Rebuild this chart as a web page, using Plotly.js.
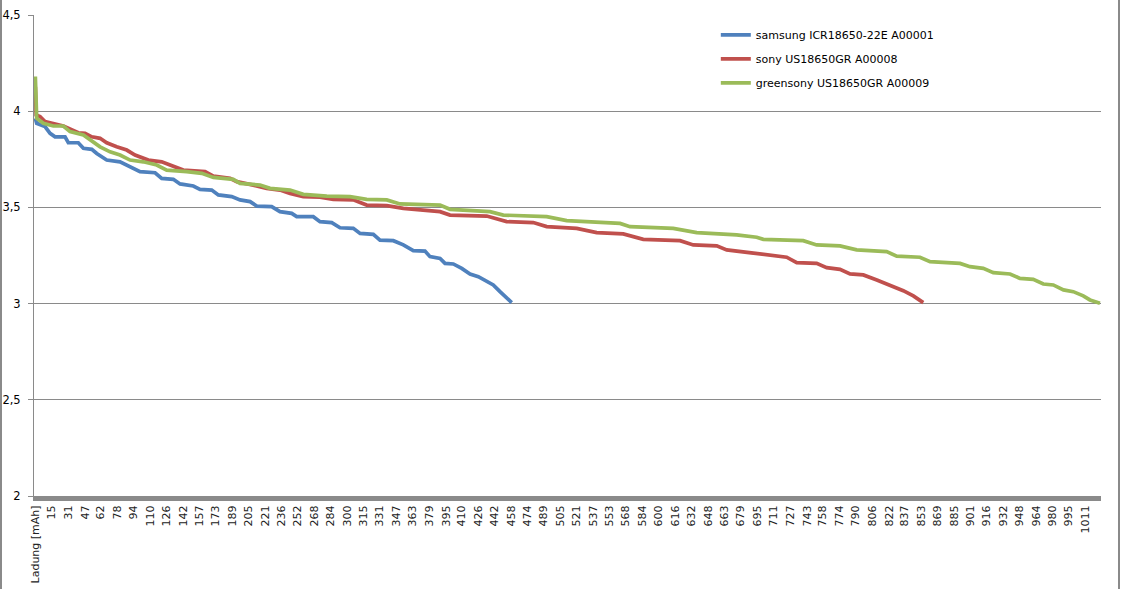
<!DOCTYPE html>
<html>
<head>
<meta charset="utf-8">
<script src="https://cdn.plot.ly/plotly-3.0.1.min.js"></script>
<style>
    body { margin: 0; background: #ffffff; }
    #wrap { position: relative; width: 1121px; height: 589px; }
    #myDiv { position: absolute; left: 0; top: 0; width: 1121px; height: 589px; }
    .rand { position: absolute; top: 0; width: 2px; height: 589px; background: #8a8a8a; }
</style>
</head>
<body>
<div id="wrap">
    <div id="myDiv"></div>
    <div class="rand" style="left:0"></div>
    <div class="rand" style="left:1118px"></div>
</div>
<script>
// Ladung [mAh] / Spannung [V]
var samsung_mah = [-0.8, 0.5, 8.5, 13.4, 18.2, 27.8, 31, 40.6, 45.5, 53.6, 58.4, 68, 80.8, 87.3, 100.1, 114.6, 121, 132.2, 138.7, 151.5,
    157.9, 169.2, 175.6, 188.5, 196.5, 206.2, 212.6, 227, 235, 246.3, 251.1, 267.1, 273.6, 284.9, 292.9, 305.7, 312.2, 325, 331.4, 344.3,
    353.9, 363.5, 374.8, 379.6, 389.3, 394.1, 402.1, 410.2, 418.2, 426.2, 434.3, 440.6, 447.1, 451.9, 458.4];
var samsung_v = [3.963, 3.937, 3.92, 3.885, 3.867, 3.867, 3.836, 3.836, 3.807, 3.802, 3.78, 3.746, 3.737, 3.72, 3.686, 3.68, 3.651, 3.646, 3.622, 3.611,
    3.594, 3.59, 3.565, 3.556, 3.539, 3.53, 3.507, 3.504, 3.478, 3.469, 3.452, 3.452, 3.426, 3.421, 3.394, 3.391, 3.365, 3.36, 3.33, 3.327,
    3.305, 3.275, 3.273, 3.244, 3.235, 3.209, 3.206, 3.183, 3.154, 3.14, 3.114, 3.097, 3.062, 3.036, 3.005];

var sony_mah = [-0.8, 0, 3.7, 8.5, 26.2, 32.6, 40.6, 47.1, 53.6, 61.6, 68, 77.6, 87.3, 95.3, 108.1, 121, 132.2, 141.8, 162.8, 170.8,
    186.9, 193.3, 209.3, 222.2, 235, 244.7, 257.5, 273.6, 286.4, 305.7, 318.6, 337.9, 353.9, 389.3, 398.9, 434.3, 453.5, 479.2, 492.1, 521,
    540.3, 565.9, 585.2, 620.6, 633.4, 656, 665.6, 694.5, 700.9, 723.4, 733.1, 752.3, 762, 774.8, 784.5, 797.3, 810.3, 823, 835.8, 845.5, 855.1];
var sony_v = [4.127, 3.98, 3.972, 3.946, 3.923, 3.906, 3.888, 3.885, 3.867, 3.859, 3.836, 3.815, 3.798, 3.772, 3.746, 3.737, 3.715, 3.694, 3.686, 3.663,
    3.651, 3.634, 3.616, 3.599, 3.59, 3.573, 3.556, 3.553, 3.542, 3.539, 3.512, 3.509, 3.495, 3.478, 3.46, 3.455, 3.426, 3.421, 3.4, 3.391,
    3.369, 3.362, 3.334, 3.327, 3.305, 3.3, 3.279, 3.261, 3.253, 3.241, 3.213, 3.209, 3.187, 3.178, 3.154, 3.149, 3.123, 3.097, 3.067, 3.04, 3.005];

var green_mah = [-0.8, 0.5, 6.9, 16.5, 26.2, 32.6, 45.5, 51.9, 61.6, 71.2, 80.8, 90.5, 103.3, 116.2, 125.8, 145.1, 159.6, 170.8, 190, 196.5,
    215.8, 225.4, 244.7, 257.5, 280.1, 302.5, 318.6, 337.9, 350.7, 389.3, 398.9, 437.4, 450.3, 492.1, 511.4, 562.8, 572.4, 614.1, 636.7, 675.2,
    694.5, 700.9, 739.4, 752.3, 774.8, 790.9, 819.8, 829.5, 851.9, 861.6, 890.5, 900.1, 912.9, 922.6, 938.7, 948.3, 961.1, 970.8, 980.4, 990.2,
    999.7, 1009.3, 1015.8, 1025.4];
var green_v = [4.18, 3.963, 3.937, 3.923, 3.923, 3.894, 3.876, 3.85, 3.815, 3.789, 3.772, 3.746, 3.737, 3.72, 3.694, 3.686, 3.677, 3.656, 3.646, 3.625,
    3.616, 3.599, 3.59, 3.568, 3.559, 3.556, 3.542, 3.539, 3.518, 3.512, 3.49, 3.478, 3.46, 3.452, 3.431, 3.417, 3.4, 3.391, 3.369, 3.357,
    3.345, 3.334, 3.327, 3.305, 3.3, 3.279, 3.27, 3.247, 3.241, 3.218, 3.209, 3.192, 3.183, 3.161, 3.154, 3.131, 3.126, 3.102, 3.097, 3.071,
    3.062, 3.04, 3.019, 3.002];

// Beschriftung der Kategorieachse
var x_labels = ["Ladung [mAh]", "15", "31", "47", "62", "78", "94", "110", "126", "142", "157", "173", "189", "205", "221", "236",
    "252", "268", "284", "300", "315", "331", "347", "363", "379", "395", "410", "426", "442", "458", "474", "489", "505", "521",
    "537", "553", "568", "584", "600", "616", "632", "648", "663", "679", "695", "711", "727", "743", "758", "774", "790", "806",
    "822", "837", "853", "869", "885", "901", "916", "932", "948", "964", "980", "995", "1011"];
var y_vals = [2, 2.5, 3, 3.5, 4, 4.5];
var y_labels = ["2", "2,5", "3", "3,5", "4", "4,5"];

var names = ["samsung ICR18650-22E A00001", "sony US18650GR A00008", "greensony US18650GR A00009"];

// erste Kategorie ist die Kopfzeile -> Position knapp vor 0
var x_ticks = x_labels.map(function(t) { return isNaN(Number(t)) ? -0.8 : Number(t); });

function linie(x, y, name, farbe, gruppe) {
    return {
        x: x, y: y, name: name,
        type: "scatter", mode: "lines",
        line: { color: farbe, width: 3.7 },
        legendgroup: gruppe,
        hoverinfo: "skip"
    };
}

var data = [
    linie(samsung_mah, samsung_v, names[0], "#4F81BD", "a"),
    linie(sony_mah, sony_v, names[1], "#C0504D", "b"),
    linie(green_mah, green_v, names[2], "#9BBB59", "c")
];

var layout = {
    width: 1121,
    height: 589,
    margin: { t: 15, r: 20, l: 34, b: 93 },
    paper_bgcolor: "rgba(0,0,0,0)",
    plot_bgcolor: "#ffffff",
    font: { color: "black", family: "DejaVu Sans", size: 11 },
    showlegend: true,
    legend: {
        x: 0.639, y: 0.989, xanchor: "left", yanchor: "top",
        bgcolor: "rgba(0,0,0,0)",
        traceorder: "grouped",
        tracegroupgap: 5,
        font: { family: "DejaVu Sans", size: 11, color: "black" }
    },
    xaxis: {
        range: [-2.1, 1026.4],
        tickmode: "array",
        tickvals: x_ticks,
        ticktext: x_labels,
        tickangle: -90,
        ticks: "",
        showgrid: false,
        zeroline: false,
        showline: true,
        linecolor: "#8a8a8a",
        linewidth: 5,
        tickfont: { family: "DejaVu Sans", size: 11, color: "#222" }
    },
    yaxis: {
        range: [2, 4.5],
        tickmode: "array",
        tickvals: y_vals,
        ticktext: y_labels,
        ticks: "outside",
        ticklen: 5,
        tickcolor: "#8a8a8a",
        ticklabelstandoff: 5,
        showgrid: true,
        gridcolor: "#8a8a8a",
        gridwidth: 1,
        zeroline: false,
        showline: true,
        linecolor: "#8a8a8a",
        linewidth: 1,
        tickfont: { family: "DejaVu Sans", size: 11.5, color: "black" }
    }
};

Plotly.newPlot("myDiv", data, layout, { displayModeBar: false });
</script>
</body>
</html>
